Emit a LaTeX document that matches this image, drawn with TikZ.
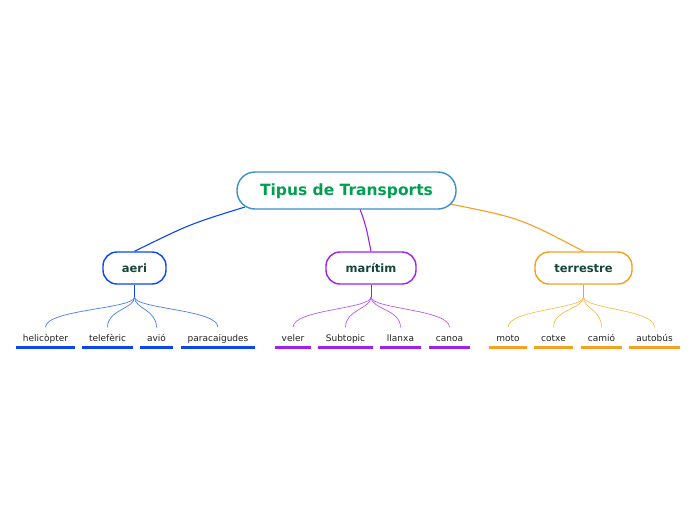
\documentclass[tikz,border=0pt]{standalone}
\usepackage{fontspec}
\setmainfont{DejaVu Sans}
\begin{document}
\begin{tikzpicture}[x=1pt,y=-1pt,
  rootbox/.style={draw=rootblue,line width=1.4pt,rounded corners=18pt,fill=white,minimum width=219pt,minimum height=37pt,inner sep=0pt,font=\fontsize{15.5}{18}\selectfont\bfseries,text=rootgreen,text height=11.5pt,text depth=1pt},
  midbox/.style={draw=#1,line width=1.4pt,rounded corners=14pt,fill=white,minimum height=32pt,inner sep=0pt,font=\fontsize{11.5}{14}\selectfont\bfseries,text=midtext,text height=9pt,text depth=1pt},
  leaf/.style={anchor=base,inner xsep=7pt,inner ysep=4.5pt,text height=7pt,text depth=2pt,font=\fontsize{9}{11}\selectfont,text=leaftext},
  uline/.style={line width=2.5pt,draw=#1},
  trunk/.style={line width=1.1pt,draw=#1},
  twig/.style={line width=0.7pt,draw=#1}]
\definecolor{rootblue}{HTML}{3A8FD0}
\definecolor{rootgreen}{HTML}{00A050}
\definecolor{midtext}{HTML}{16463A}
\definecolor{leaftext}{HTML}{222222}
\definecolor{cblue}{HTML}{0A47EE}
\definecolor{cpurple}{HTML}{A020F0}
\definecolor{corange}{HTML}{F5A020}
\definecolor{lblue}{HTML}{4A7BFF}
\definecolor{lpurple}{HTML}{B95AF7}
\definecolor{lorange}{HTML}{F8BD55}
\useasboundingbox (0,0) rectangle (696,520);

% top-level connectors
\coordinate (ra) at (245,207);
\coordinate (rm) at (360,209);
\coordinate (rt) at (450,204);
\node[midbox=cblue,minimum width=63pt] (aeri) at (134.5,268) {aeri};
\node[midbox=cpurple,minimum width=90pt] (mar) at (371,268) {marítim};
\node[midbox=corange,minimum width=97pt] (ter) at (583.5,268) {terrestre};
\draw[trunk=cblue] (ra) .. controls (190,224) .. (aeri.north);
\draw[trunk=cpurple] (rm) .. controls (366,226) .. (mar.north);
\draw[trunk=corange] (rt) .. controls (520,218) .. (ter.north);
\node[rootbox] (root) at (346.5,190.5) {Tipus de Transports};

% leaves
\foreach \n/\x/\t in {h/45.5/helicòpter, tf/107.5/telefèric, av/156.5/avió, pc/218/paracaigudes,
  ve/293/veler, su/345.5/Subtopic, ll/400.5/llanxa, ca/449.5/canoa,
  mo/508/moto, co/553.5/cotxe, cm/601.5/camió, au/654.5/autobús}{
  \node[leaf] (\n) at (\x,341) {\t};
}
% underlines (widths as in the reference)
\foreach \a/\b/\c in {16/75/cblue, 82/133/cblue, 140/173/cblue, 181/255/cblue,
  275/311/cpurple, 318/373/cpurple, 380/421/cpurple, 429/470/cpurple,
  489/527/corange, 534/573/corange, 581/622/corange, 629/680/corange}{
  \draw[uline=\c] (\a,347.5) -- (\b,347.5);
}
% fan-out connectors
\coordinate (fa) at (134.5,297);
\coordinate (fm) at (371,297);
\coordinate (ft) at (583.5,297);
\draw[twig=cblue] (aeri.south) -- (fa);
\draw[twig=cpurple] (mar.south) -- (fm);
\draw[twig=corange] (ter.south) -- (ft);
\foreach \p/\n/\c in {fa/h/lblue, fa/tf/lblue, fa/av/lblue, fa/pc/lblue,
  fm/ve/lpurple, fm/su/lpurple, fm/ll/lpurple, fm/ca/lpurple,
  ft/mo/lorange, ft/co/lorange, ft/cm/lorange, ft/au/lorange}{
  \draw[twig=\c] (\p) .. controls ([yshift=-12pt]\p) and ([yshift=20pt]\n.north) .. ([yshift=2pt]\n.north);
}
\end{tikzpicture}
\end{document}
